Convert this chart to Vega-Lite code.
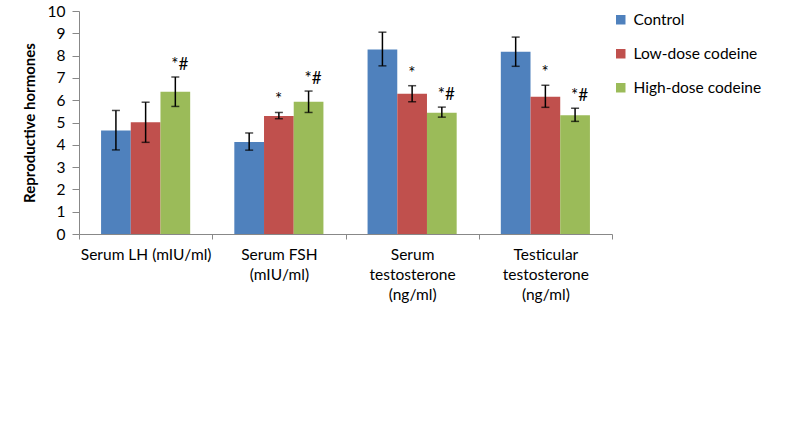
{
  "$schema": "https://vega.github.io/schema/vega-lite/v6.json",
  "autosize": "none",
  "width": 533,
  "height": 223,
  "padding": {"left": 79, "top": 11, "right": 176, "bottom": 189},
  "background": "white",
  "config": {
    "font": "Lato",
    "view": {"stroke": null},
    "axis": {"labelFont": "Lato", "titleFont": "Lato", "labelColor": "#000", "titleColor": "#000", "domainColor": "#888", "tickColor": "#888", "grid": false},
    "axisY": {"titleFontSize": 15, "titleFontWeight": "bold", "titlePadding": 10, "labelFontSize": 15.5, "labelOverlap": false, "tickSize": 7, "labelPadding": 7},
    "legend": {"labelFont": "Lato"}
  },
  "data": {
    "values": [
      {"cat": "Serum LH (mIU/ml)", "group": "Control", "value": 4.64, "lo": 3.77, "hi": 5.54, "sig": ""},
      {"cat": "Serum LH (mIU/ml)", "group": "Low-dose codeine", "value": 5.01, "lo": 4.11, "hi": 5.91, "sig": ""},
      {"cat": "Serum LH (mIU/ml)", "group": "High-dose codeine", "value": 6.38, "lo": 5.72, "hi": 7.04, "sig": "*#"},
      {"cat": "Serum FSH|(mIU/ml)", "group": "Control", "value": 4.13, "lo": 3.76, "hi": 4.53, "sig": ""},
      {"cat": "Serum FSH|(mIU/ml)", "group": "Low-dose codeine", "value": 5.29, "lo": 5.17, "hi": 5.45, "sig": "*"},
      {"cat": "Serum FSH|(mIU/ml)", "group": "High-dose codeine", "value": 5.93, "lo": 5.45, "hi": 6.41, "sig": "*#"},
      {"cat": "Serum|testosterone|(ng/ml)", "group": "Control", "value": 8.27, "lo": 7.54, "hi": 9.05, "sig": ""},
      {"cat": "Serum|testosterone|(ng/ml)", "group": "Low-dose codeine", "value": 6.29, "lo": 5.93, "hi": 6.65, "sig": "*"},
      {"cat": "Serum|testosterone|(ng/ml)", "group": "High-dose codeine", "value": 5.44, "lo": 5.24, "hi": 5.69, "sig": "*#"},
      {"cat": "Testicular|testosterone|(ng/ml)", "group": "Control", "value": 8.17, "lo": 7.52, "hi": 8.83, "sig": ""},
      {"cat": "Testicular|testosterone|(ng/ml)", "group": "Low-dose codeine", "value": 6.16, "lo": 5.68, "hi": 6.67, "sig": "*"},
      {"cat": "Testicular|testosterone|(ng/ml)", "group": "High-dose codeine", "value": 5.33, "lo": 5.05, "hi": 5.64, "sig": "*#"}
    ]
  },
  "encoding": {
    "x": {
      "field": "cat", "type": "nominal", "sort": null,
      "scale": {"paddingInner": 0, "paddingOuter": 0},
      "axis": {"title": null, "labelAngle": 0, "labelExpr": "split(datum.label, '|')", "labelFontSize": 15.5, "labelLineHeight": 20, "labelPadding": 8, "tickBand": "extent", "tickSize": 5, "labelBaseline": "top", "labelOverlap": false}
    },
    "xOffset": {"field": "group", "type": "nominal", "sort": ["Control", "Low-dose codeine", "High-dose codeine"], "scale": {"paddingInner": 0, "paddingOuter": 0.743}}
  },
  "layer": [
    {
      "mark": {"type": "bar"},
      "encoding": {
        "y": {"field": "value", "type": "quantitative", "scale": {"domain": [0, 10]},
          "axis": {"title": "Reproductive hormones", "values": [0,1,2,3,4,5,6,7,8,9,10]}},
        "color": {"field": "group", "type": "nominal", "sort": ["Control", "Low-dose codeine", "High-dose codeine"],
          "scale": {"domain": ["Control", "Low-dose codeine", "High-dose codeine"], "range": ["#4F81BD", "#C0504D", "#9BBB59"]},
          "legend": {"title": null, "orient": "none", "legendX": 534, "legendY": 1, "symbolType": "square", "symbolSize": 90, "symbolStrokeWidth": 0, "labelFontSize": 15.5, "rowPadding": 17, "labelOffset": 5}}
      }
    },
    {
      "mark": {"type": "rule", "color": "black", "strokeWidth": 1.5},
      "encoding": {"y": {"field": "lo", "type": "quantitative", "axis": {"title": "Reproductive hormones", "values": [0,1,2,3,4,5,6,7,8,9,10]}}, "y2": {"field": "hi"}}
    },
    {
      "mark": {"type": "tick", "color": "black", "thickness": 1.5, "size": 8},
      "encoding": {"y": {"field": "lo", "type": "quantitative", "axis": {"title": "Reproductive hormones", "values": [0,1,2,3,4,5,6,7,8,9,10]}}}
    },
    {
      "mark": {"type": "tick", "color": "black", "thickness": 1.5, "size": 8},
      "encoding": {"y": {"field": "hi", "type": "quantitative", "axis": {"title": "Reproductive hormones", "values": [0,1,2,3,4,5,6,7,8,9,10]}}}
    },
    {
      "mark": {"type": "text", "align": "left", "baseline": "alphabetic", "dx": -4, "dy": -7, "fontSize": 17, "color": "black"},
      "encoding": {"y": {"field": "hi", "type": "quantitative", "axis": {"title": "Reproductive hormones", "values": [0,1,2,3,4,5,6,7,8,9,10]}}, "text": {"field": "sig"}}
    }
  ]
}
